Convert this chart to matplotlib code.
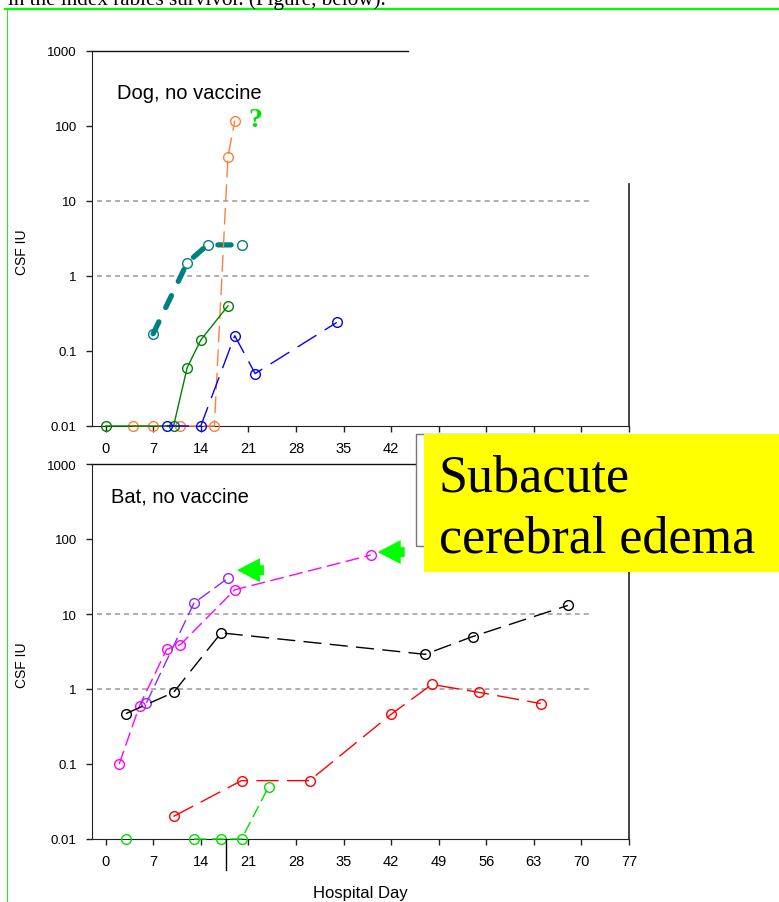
import matplotlib
matplotlib.use("Agg")
import matplotlib.pyplot as plt
import matplotlib.transforms as mtransforms
from matplotlib.patches import Polygon, Rectangle
from matplotlib.ticker import NullLocator

plt.rcParams['font.family'] = ['Liberation Sans', 'DejaVu Sans']

# CSF titres (IU) by hospital day -- dog rabies, no vaccine
dog_teal_day = [7, 12, 15, 20]
dog_teal_iu = [0.17, 1.5, 2.6, 2.6]
dog_orange_day = [4, 7, 11, 16, 18, 19]
dog_orange_iu = [0.01, 0.01, 0.01, 0.01, 39, 118]
dog_green_day = [0, 10, 12, 14, 18]
dog_green_iu = [0.01, 0.01, 0.06, 0.14, 0.40]
dog_blue_day = [9, 14, 19, 22, 34]
dog_blue_iu = [0.01, 0.01, 0.16, 0.05, 0.24]

# bat rabies, no vaccine
bat_magenta_day = [2, 5, 9, 11, 19, 39]
bat_magenta_iu = [0.1, 0.6, 3.4, 3.9, 21, 61]
bat_purple_day = [6, 13, 18]
bat_purple_iu = [0.65, 14, 30]
bat_black_day = [3, 10, 17, 47, 54, 68]
bat_black_iu = [0.47, 0.9, 5.6, 2.9, 5.0, 13]
bat_red_day = [10, 20, 30, 42, 48, 55, 64]
bat_red_iu = [0.02, 0.06, 0.06, 0.46, 1.15, 0.9, 0.64]
bat_green_day = [3, 13, 17, 20, 24]
bat_green_iu = [0.01, 0.01, 0.01, 0.01, 0.05]

y_ticks = [0.01, 0.1, 1, 10, 100, 1000]
y_tick_labels = ["0.01", "0.1", "1", "10", "100", "1000"]
x_ticks = list(range(0, 78, 7))
ref_levels = [1, 10]

W, H = 779, 903
fig = plt.figure(figsize=(W / 100, H / 100), dpi=100)
fig.patch.set_facecolor("white")


def px_axes(left, top, right, bottom):
    return fig.add_axes([left / W, 1 - bottom / H, (right - left) / W, (bottom - top) / H])


def setup(ax, top_len, right_len):
    ax.set_yscale("log")
    ax.set_ylim(0.01, 1000)
    ax.set_xlim(-2, 77)
    ax.set_yticks(y_ticks, y_tick_labels)
    ax.yaxis.set_minor_locator(NullLocator())
    ax.set_xticks(x_ticks)
    ax.tick_params(axis="y", length=4, width=1, pad=7, labelsize=9.5, color="#222")
    ax.tick_params(axis="x", length=4, width=1, pad=6.5, labelsize=10.5, color="#222")
    ax.spines["top"].set_visible(False)
    ax.spines["right"].set_visible(False)
    for s in ("left", "bottom"):
        ax.spines[s].set_color("#222")
    # partial frame lines
    ax.plot([0, top_len], [1, 1], transform=ax.transAxes, color="#111", lw=1, clip_on=False)
    ax.plot([1, 1], [0, right_len], transform=ax.transAxes, color="#222", lw=1.2, clip_on=False)
    ax.hlines(ref_levels, -1.2, 71.5, colors="#999999", lw=1.1,
              linestyles=(0, (3.3, 2.6)), zorder=1)


def series(ax, days, iu, color, dashes=None, lw=1.0, ms=7, first=0, **kw):
    # markers for every titre, connecting line from index `first` on
    ax.plot(days, iu, ls="none", marker="o", ms=ms, mfc="none", mec=color, mew=1,
            clip_on=False, zorder=3)
    line, = ax.plot(days[first:], iu[first:], color=color, lw=lw, clip_on=False,
                    zorder=3, **kw)
    if dashes:
        line.set_dashes(dashes)
    return line


ax_dog = px_axes(92, 52, 629, 427)
setup(ax_dog, 0.5885, 0.645)
series(ax_dog, dog_teal_day, dog_teal_iu, "#008080", dashes=(2.5, 3), lw=3.8,
       dash_capstyle="round")
series(ax_dog, dog_orange_day, dog_orange_iu, "#FF7F40", dashes=(12, 5))
series(ax_dog, dog_green_day, dog_green_iu, "#008000")
series(ax_dog, dog_blue_day, dog_blue_iu, "#0000FF", dashes=(16, 7))
ax_dog.text(0.046, 0.874, "Dog, no vaccine", transform=ax_dog.transAxes, fontsize=14.5,
            va="baseline")
ax_dog.annotate("?", xy=(dog_orange_day[-1], dog_orange_iu[-1]), xytext=(15, -4),
                textcoords="offset points", ha="center", va="baseline",
                fontfamily="Liberation Serif", fontweight="bold", fontsize=20,
                color="#00E000", annotation_clip=False)

ax_bat = px_axes(92, 465, 629, 840)
setup(ax_bat, 0.603, 1.0)
series(ax_bat, bat_magenta_day, bat_magenta_iu, "#FF00FF", dashes=(10, 4))
series(ax_bat, bat_purple_day, bat_purple_iu, "#8B2BF0", dashes=(10, 4))
series(ax_bat, bat_black_day, bat_black_iu, "#000000", dashes=(13, 6))
series(ax_bat, bat_red_day, bat_red_iu, "#FF0000", dashes=(16, 6))
series(ax_bat, bat_green_day, bat_green_iu, "#00E000", dashes=(9, 4), first=1)
ax_bat.text(0.035, 0.8995, "Bat, no vaccine", transform=ax_bat.transAxes, fontsize=14.5,
            va="baseline")

# block arrows pointing at the last titre before edema (pixel shape, tip at origin)
arrow_shape = [(0, 0), (23, 12), (23, 5), (27, 5), (27, -5), (23, -5), (23, -12)]
for x, y, dx, dy in [(bat_purple_day[-1], bat_purple_iu[-1], 9, 8),
                     (bat_magenta_day[-1], bat_magenta_iu[-1], 7, 3)]:
    trans = fig.dpi_scale_trans + mtransforms.ScaledTranslation(x, y, ax_bat.transData)
    verts = [((px + dx) / 100, (py + dy) / 100) for px, py in arrow_shape]
    ax_bat.add_patch(Polygon(verts, closed=True, transform=trans, fc="#00FF00",
                             ec="none", clip_on=False, zorder=4))

# slide overlay in pixel coordinates
ov = fig.add_axes([0, 0, 1, 1], zorder=10)
ov.set_xlim(0, W)
ov.set_ylim(H, 0)
ov.axis("off")

ov.text(8, 5, "in the index rabies survivor. (Figure, below).", fontfamily="Liberation Serif",
        fontsize=15.2, va="baseline", ha="left")
ov.plot([5, W], [10, 10], color="#00FF00", lw=1.6)
ov.plot([7, 7], [10, H], color="#33DD33", lw=0.8)

fig.text(22 / W, 1 - 252 / H, "CSF IU", rotation=90, ha="center", va="center", fontsize=10)
fig.text(22 / W, 1 - 665 / H, "CSF IU", rotation=90, ha="center", va="center", fontsize=10)
ov.text(360.5, 898, "Hospital Day", ha="center", va="baseline", fontsize=12)
ov.plot([226, 226], [840, 871], color="black", lw=1)

ov.add_patch(Rectangle((416, 435), 120, 112, fc="white", ec="#777777", lw=1))
ov.add_patch(Rectangle((424, 435), 360, 138, fc="#FFFF00", ec="none"))
ov.text(439, 492, "Subacute", fontfamily="Liberation Serif", fontsize=37.5, va="baseline")
ov.text(439, 553, "cerebral edema", fontfamily="Liberation Serif", fontsize=37.5, va="baseline")

fig.savefig("out.png", dpi=100)
